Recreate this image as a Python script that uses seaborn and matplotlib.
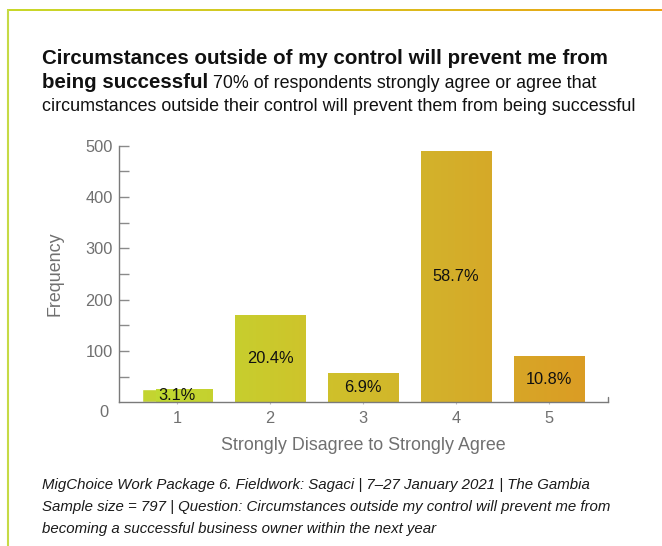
import numpy as np
import matplotlib
matplotlib.use("Agg")
import matplotlib.pyplot as plt
from matplotlib.colors import LinearSegmentedColormap, to_hex
from matplotlib.lines import Line2D
import seaborn as sns

# Survey responses on a 1-5 scale
categories = ["1", "2", "3", "4", "5"]
frequency = [26, 170, 58, 490, 90]
percent_labels = [3.1, 20.4, 6.9, 58.7, 10.8]
y_ticks = [100, 200, 300, 400, 500]

title_bold_1 = "Circumstances outside of my control will prevent me from"
title_bold_2 = "being successful"
title_reg_2 = " 70% of respondents strongly agree or agree that"
title_reg_3 = "circumstances outside their control will prevent them from being successful"
footer = ("MigChoice Work Package 6. Fieldwork: Sagaci | 7\u201327 January 2021 | The Gambia\n"
          "Sample size = 797 | Question: Circumstances outside my control will prevent me from\n"
          "becoming a successful business owner within the next year")

sns.set_theme(style="white")
plt.rcParams["font.family"] = ["Liberation Sans", "DejaVu Sans"]

W, H = 662, 546
fig = plt.figure(figsize=(W / 100, H / 100), dpi=100)

# Bar gradient: lime green on the left to amber on the right
bar_cmap = LinearSegmentedColormap.from_list("lime_amber", ["#c0d931", "#cec42b", "#d4ae2a", "#dc9a23"])
frame_cmap = LinearSegmentedColormap.from_list("frame", ["#c8d82a", "#d9c21f", "#eba114"])

ax = fig.add_axes([119 / W, 1 - 402.3 / H, (608 - 119) / W, (402.3 - 145.7) / H])
xlim = (-0.624, 4.634)
centers = np.arange(len(categories))
bar_colors = [to_hex(bar_cmap((c - xlim[0] - 0.24) / (xlim[1] - xlim[0] - 0.65))) for c in centers]

sns.barplot(x=categories, y=frequency, hue=categories, palette=bar_colors,
            legend=False, width=0.76, saturation=1, ax=ax, zorder=2)
ax.set_xlim(*xlim)
ax.set_ylim(0, 500)

# Horizontal colour gradient clipped to each bar
grad = np.linspace(0, 1, 512).reshape(1, -1)
for patch in ax.patches:
    im = ax.imshow(grad, cmap=bar_cmap, aspect="auto", zorder=2.5,
                   extent=(xlim[0] + 0.4, xlim[1] - 0.05, 0, 500), interpolation="bilinear")
    im.set_clip_path(patch)
ax.set_xlim(*xlim)
ax.set_ylim(0, 500)

for cont, pct in zip(ax.containers, percent_labels):
    ax.bar_label(cont, labels=[f"{pct}%"], label_type="center", fontsize=11.8,
                 color="#111111", zorder=5)
for t in ax.texts:
    t.set_zorder(5)

# Axes styling
for side in ["top", "right"]:
    ax.spines[side].set_visible(False)
for side in ["left", "bottom"]:
    ax.spines[side].set_color("#7a7a7a")
    ax.spines[side].set_linewidth(1.0)
ax.plot([1, 1], [0, 0.022], transform=ax.transAxes, color="#7a7a7a", lw=1.0, clip_on=False)

ax.set_yticks(y_ticks)
ax.set_yticks([50, 150, 250, 350, 450], minor=True)
ax.tick_params(axis="y", which="both", direction="in", length=7.5, width=1.0,
               color="#8a8a8a", labelsize=11.8, labelcolor="#707070", pad=4.5, left=True)
ax.tick_params(axis="x", direction="out", length=1.5, width=0.8, color="#bbbbbb",
               labelsize=11.8, labelcolor="#707070", pad=5, bottom=True)
ax.text(-0.022, -0.04, "0", transform=ax.transAxes, ha="right", va="center",
        fontsize=11.8, color="#707070")

ax.set_ylabel("Frequency", fontsize=12.9, color="#707070", labelpad=16)
ax.set_xlabel("Strongly Disagree to Strongly Agree", fontsize=12.9, color="#707070", labelpad=8)

# Title block
fig.text(42 / W, 1 - 64 / H, title_bold_1, fontsize=14.75, fontweight="bold",
         color="#111111", ha="left", va="baseline")
tb = fig.text(42 / W, 1 - 87.5 / H, title_bold_2, fontsize=14.75, fontweight="bold",
              color="#111111", ha="left", va="baseline")
fig.canvas.draw()
bb = tb.get_window_extent(renderer=fig.canvas.get_renderer())
fig.text(bb.x1 / W, 1 - 87.5 / H, title_reg_2, fontsize=12.9, color="#111111",
         ha="left", va="baseline")
fig.text(42 / W, 1 - 111 / H, title_reg_3, fontsize=12.9, color="#111111",
         ha="left", va="baseline")

# Footer notes
fig.text(42 / W, 1 - 478 / H, footer, fontsize=10.8, style="italic", color="#1a1a1a",
         ha="left", va="top", linespacing=1.72)

# Frame: gradient rule on top, green rule on the left
fax = fig.add_axes([7 / W, 1 - 11 / H, 1 - 7 / W, 2 / H])
fax.imshow(grad, cmap=frame_cmap, aspect="auto", interpolation="bilinear")
fax.set_axis_off()
fig.add_artist(Line2D([7.5 / W, 7.5 / W], [0, 1 - 10 / H], transform=fig.transFigure,
                      color="#c6da45", lw=1.5))

fig.savefig("out.png", dpi=100)
